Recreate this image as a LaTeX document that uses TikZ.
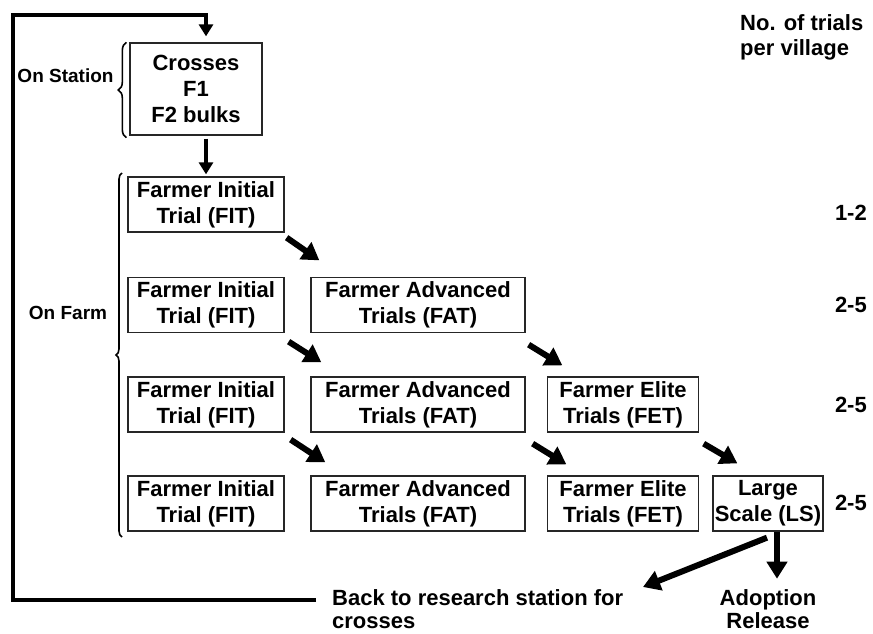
\documentclass[tikz,border=0pt]{standalone}
\usepackage{fontspec}
\setmainfont{Liberation Sans}
\usetikzlibrary{arrows.meta,decorations.pathreplacing}
\begin{document}
\begin{tikzpicture}[x=1pt,y=-1pt,
  box/.style={draw=black!85,line width=1.3pt,inner sep=0pt,align=center,minimum height=55pt,
    font=\fontsize{22}{26}\selectfont\bfseries},
  fitbox/.style={box,minimum width=156pt},
  fatbox/.style={box,minimum width=214pt},
  fetbox/.style={box,minimum width=151pt},
  lsbox/.style={box,minimum width=110pt},
  lbl/.style={inner sep=0pt,font=\fontsize{22}{25}\selectfont\bfseries},
  low/.style={inner sep=0pt,font=\fontsize{22}{23}\selectfont\bfseries},
  side/.style={inner sep=0pt,font=\fontsize{19}{22}\selectfont\bfseries},
  bigarr/.style={line width=6pt,-{Triangle[length=17pt,width=20pt]}},
  varr/.style={line width=3.5pt,-{Triangle[length=12pt,width=14pt]}},
  loopline/.style={line width=4pt},
  brc/.style={decorate,decoration={brace,amplitude=#1},line width=1.6pt}
]
\useasboundingbox (0,0) rectangle (873,634);

% boxes
\node[box,minimum width=132pt,minimum height=92pt] (cross) at (196,89) {Crosses\\F1\\F2 bulks};
\node[fitbox] (fit1) at (206,204.5) {Farmer Initial\\Trial (FIT)};
\node[fitbox] (fit2) at (206,305) {Farmer Initial\\Trial (FIT)};
\node[fitbox] (fit3) at (206,404.5) {Farmer Initial\\Trial (FIT)};
\node[fitbox] (fit4) at (206,503.5) {Farmer Initial\\Trial (FIT)};
\node[fatbox] (fat2) at (418,305) {Farmer Advanced\\Trials (FAT)};
\node[fatbox] (fat3) at (418,404.5) {Farmer Advanced\\Trials (FAT)};
\node[fatbox] (fat4) at (418,503.5) {Farmer Advanced\\Trials (FAT)};
\node[fetbox] (fet3) at (623,404.5) {Farmer Elite\\Trials (FET)};
\node[fetbox] (fet4) at (623,503.5) {Farmer Elite\\Trials (FET)};
\node[lsbox] (ls4) at (768,503.5) {Large\\Scale (LS)};

% right column
\node[lbl,anchor=west,align=left] (hdr) at (740,37) {No. of trials\\per village};
\node[lbl,anchor=east] (n1) at (867,213) {1-2};
\node[lbl,anchor=east] (n2) at (867,305) {2-5};
\node[lbl,anchor=east] (n3) at (867,405) {2-5};
\node[lbl,anchor=east] (n4) at (867,503) {2-5};

% bottom texts
\node[low,anchor=west,align=left] (back) at (332,609.5) {Back to research station for\\crosses};
\node[low,align=center] (adopt) at (768,609.5) {Adoption\\Release};

% side labels and braces
\node[side] (onst) at (65.5,76) {On Station};
\node[side] (onfarm) at (68,313) {On Farm};
\draw[brc=8pt] ([shift={(-3,2)}]cross.south west) -- ([xshift=-3pt]cross.north west);
\coordinate (fb1) at (122,537);
\coordinate (fb2) at (122,173);
\draw[brc=6pt] (fb1) -- (fb2);

% loop back to station
\coordinate (lp) at (13,15);
\draw[loopline,-{Triangle[length=12pt,width=14pt]},shorten >=6pt]
  ([shift={(-16,-9.5)}]back.west) -| (lp) -| (cross.north -| fit1.north);

% vertical arrow
\draw[varr,shorten <=3pt,shorten >=2pt] (cross.south -| fit1.north) -- (fit1.north);

% diagonal arrows
\draw[bigarr] ([shift={(2,5)}]fit1.south east) -- ([shift={(9,-16.5)}]fat2.north west);
\draw[bigarr] ([shift={(4,8.5)}]fit2.south east) -- ([shift={(11,-14)}]fat3.north west);
\draw[bigarr] ([shift={(3,11.5)}]fat2.south east) -- ([shift={(15.5,-11)}]fet3.north west);
\draw[bigarr] ([shift={(6,7)}]fit3.south east) -- ([shift={(15,-13)}]fat4.north west);
\draw[bigarr] ([shift={(7,11)}]fat3.south east) -- ([shift={(19.5,-11)}]fet4.north west);
\draw[bigarr] ([shift={(4.5,11)}]fet3.south east) -- ([shift={(25,-12)}]ls4.north west);

% outputs of large scale
\coordinate (backtip) at (643,587);
\draw[bigarr] ([shift={(-1,6)}]ls4.south) -- (backtip);
\draw[bigarr,shorten >=11pt] ([xshift=9pt]ls4.south) -- ([xshift=9pt]ls4.south |- adopt.north);
\end{tikzpicture}
\end{document}
